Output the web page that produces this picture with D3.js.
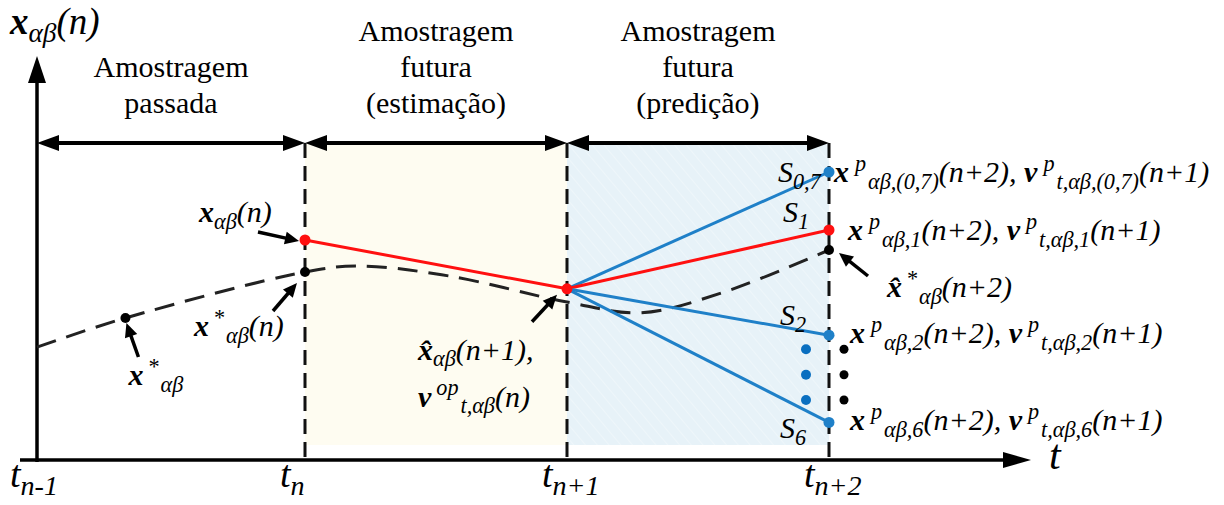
<!DOCTYPE html>
<html>
<head>
<meta charset="utf-8">
<script src="https://cdn.jsdelivr.net/npm/d3@7"></script>
<style>
  body { margin: 0; background: #fff; }
  svg { display: block; }
</style>
</head>
<body>
<svg id="chart" width="1224" height="505"></svg>
<script>
// sampling instants on the time axis (t subscripts)
const tickIdx = [0, 1, 2, 3];
const tickSubs = ["n-1", "n", "n+1", "n+2"];

// sampling windows above the plot
const windowFrom = [0, 1, 2];
const windowTo = [1, 2, 3];
const windowText = [
  ["Amostragem", "passada"],
  ["Amostragem", "futura", "(estimação)"],
  ["Amostragem", "futura", "(predição)"]
];

// reference trajectory x*αβ (dashed), arbitrary units
const refT = [0, 0.33, 1, 1.2, 1.55, 2, 2.28, 2.6, 3];
const refV = [28.2, 35.5, 47, 48.5, 46, 39.5, 36.8, 42, 52.5];
const refDotT = [0.33, 1, 3];

// measured value at t_n and estimate at t_{n+1}
const estT = [1, 2];
const estV = [55, 42.8];

// predictions at t_{n+2} for each switching state
const predState = ["0,7", "1", "2", "6"];
const predEnd = [72, 57.5, 31.2, 9.4];
const predRed = [false, true, false, false];
const ellipsisV = [27.7, 21.3, 15];

const svg = d3.select("#chart");
const FONT = '"Liberation Serif"';

const x = d3.scaleLinear().domain(tickIdx).range([37, 305, 567, 829]);
const y = d3.scaleLinear().domain([0, 100]).range([460, 60]);
const yWin = 143, yBottom = 445, yAxis = 460;

const RED = "#ff1010", BLUE = "#1f80c8";

//helpers
function arrowHead(g, x1, y1, x2, y2, len, half) {
  const a = Math.atan2(y2 - y1, x2 - x1);
  const bx = x2 - len * Math.cos(a), by = y2 - len * Math.sin(a);
  const px = -Math.sin(a) * half, py = Math.cos(a) * half;
  g.append("path")
    .attr("d", `M${x2},${y2}L${bx + px},${by + py}L${bx - px},${by - py}Z`)
    .attr("fill", "#000");
}
function arrow(g, x1, y1, x2, y2, len, half, w, both) {
  const a = Math.atan2(y2 - y1, x2 - x1);
  const s = both ? len * 0.8 : 0;
  g.append("line")
    .attr("x1", x1 + s * Math.cos(a)).attr("y1", y1 + s * Math.sin(a))
    .attr("x2", x2 - len * 0.8 * Math.cos(a)).attr("y2", y2 - len * 0.8 * Math.sin(a))
    .attr("stroke", "#000").attr("stroke-width", w);
  arrowHead(g, x1, y1, x2, y2, len, half);
  if (both) arrowHead(g, x2, y2, x1, y1, len, half);
}
// parts: [text, kind, dx]; kind: b = bold, ^ = superscript, _ = subscript
function rich(g, x0, y0, parts, size) {
  const t = g.append("text")
    .attr("x", x0).attr("y", y0)
    .style("font-family", FONT)
    .style("font-style", "italic")
    .attr("font-size", size)
    .attr("fill", "#000");
  let shift = 0;
  parts.forEach(([s, k, dx]) => {
    const target = k.includes("^") ? -0.38 * size : k.includes("_") ? 0.22 * size : 0;
    const small = k.includes("^") || k.includes("_");
    t.append("tspan")
      .attr("dy", target - shift)
      .attr("dx", dx || null)
      .attr("font-size", small ? size * 0.74 : size)
      .attr("font-weight", k.includes("b") ? "bold" : null)
      .text(s);
    shift = target;
  });
  return t;
}

// defs: hatch for prediction window
const defs = svg.append("defs");
const hatch = defs.append("pattern")
  .attr("id", "hatch").attr("patternUnits", "userSpaceOnUse")
  .attr("width", 9).attr("height", 9)
  .attr("patternTransform", "rotate(-40)");
hatch.append("rect").attr("width", 9).attr("height", 9).attr("fill", "#e7f2f8");
hatch.append("line").attr("x1", 0).attr("y1", 0).attr("x2", 0).attr("y2", 9)
  .attr("stroke", "#f4f9fc").attr("stroke-width", 1.2);

// window backgrounds
svg.append("rect")
  .attr("x", x(1)).attr("y", yWin)
  .attr("width", x(2) - x(1)).attr("height", yBottom - yWin)
  .attr("fill", "#fefcf1");
svg.append("rect")
  .attr("x", x(2)).attr("y", yWin)
  .attr("width", x(3) - x(2)).attr("height", yBottom - yWin)
  .attr("fill", "url(#hatch)");

// dashed verticals at t_n, t_n+1, t_n+2
svg.selectAll("line.tick")
  .data(tickIdx.slice(1))
  .join("line")
  .attr("class", "tick")
  .attr("x1", d => x(d)).attr("x2", d => x(d))
  .attr("y1", yWin).attr("y2", yAxis)
  .attr("stroke", "#111").attr("stroke-width", 3)
  .attr("stroke-dasharray", "15,8");

// axes
const axes = svg.append("g");
axes.append("line").attr("x1", x(0)).attr("x2", x(0))
  .attr("y1", yAxis + 2).attr("y2", 80)
  .attr("stroke", "#000").attr("stroke-width", 3.5);
arrowHead(axes, x(0), 90, x(0), 56, 27, 9);
axes.append("line").attr("x1", 20).attr("x2", 1010)
  .attr("y1", yAxis).attr("y2", yAxis)
  .attr("stroke", "#000").attr("stroke-width", 3.5);
arrowHead(axes, 990, yAxis, 1031, yAxis, 28, 8);
rich(axes, 1049, 469, [["t", ""]], 42);
rich(axes, 10, 34, [["x", "b"], ["αβ", "_"], ["(n)", ""]], 37);

// time tick labels
tickIdx.forEach((d, i) => {
  rich(axes, x(d) + (i === 0 ? -27 : -25), 487, [["t", ""], [tickSubs[i], "_"]], 38);
});

// window double arrows and titles
windowFrom.forEach((f, i) => {
  arrow(svg, x(f), yWin, x(windowTo[i]), yWin, 22, 8, 4, true);
  const lines = windowText[i];
  const cx = (x(f) + x(windowTo[i])) / 2;
  lines.forEach((s, j) => {
    svg.append("text")
      .attr("x", cx)
      .attr("y", 113 - (lines.length - 1 - j) * 36)
      .attr("text-anchor", "middle")
      .style("font-family", FONT)
      .attr("font-size", 30)
      .text(s);
  });
});

// reference trajectory
const refLine = d3.line()
  .x(d => x(d[0])).y(d => y(d[1]))
  .curve(d3.curveCatmullRom.alpha(0.5));
svg.append("path")
  .datum(refT.map((t, i) => [t, refV[i]]))
  .attr("d", refLine)
  .attr("fill", "none")
  .attr("stroke", "#222").attr("stroke-width", 3)
  .attr("stroke-dasharray", "20,11");

// predictions from t_n+1 to t_n+2
const start = [estT[1], estV[1]];
predState.forEach((s, i) => {
  svg.append("line")
    .attr("x1", x(start[0])).attr("y1", y(start[1]))
    .attr("x2", x(3)).attr("y2", y(predEnd[i]))
    .attr("stroke", predRed[i] ? RED : BLUE).attr("stroke-width", 3);
});
// measured -> estimate
svg.append("line")
  .attr("x1", x(estT[0])).attr("y1", y(estV[0]))
  .attr("x2", x(estT[1])).attr("y2", y(estV[1]))
  .attr("stroke", RED).attr("stroke-width", 3);

// points
const refAt = t => refV[refT.indexOf(t)];
svg.selectAll("circle.ref")
  .data(refDotT)
  .join("circle").attr("class", "ref")
  .attr("cx", d => x(d)).attr("cy", d => y(refAt(d)))
  .attr("r", 5).attr("fill", "#000");
svg.selectAll("circle.pred")
  .data(predEnd)
  .join("circle").attr("class", "pred")
  .attr("cx", x(3)).attr("cy", d => y(d))
  .attr("r", 5.5).attr("fill", (d, i) => predRed[i] ? RED : BLUE);
svg.selectAll("circle.est")
  .data(estT)
  .join("circle").attr("class", "est")
  .attr("cx", d => x(d)).attr("cy", (d, i) => y(estV[i]))
  .attr("r", 5.5).attr("fill", RED);
svg.selectAll("circle.ellB")
  .data(ellipsisV)
  .join("circle").attr("class", "ellB")
  .attr("cx", x(3) - 23).attr("cy", d => y(d))
  .attr("r", 5).attr("fill", "#0a6fc0");
svg.selectAll("circle.ellK")
  .data(ellipsisV)
  .join("circle").attr("class", "ellK")
  .attr("cx", x(3) + 15).attr("cy", d => y(d))
  .attr("r", 4.5).attr("fill", "#000");

// switching state labels S
const sOff = [[-51, 10], [-46, -8], [-49, -10], [-49, 16]];
predState.forEach((s, i) => {
  rich(svg, x(3) + sOff[i][0], y(predEnd[i]) + sOff[i][1], [["S", ""], [s, "_"]], 30);
});

// prediction labels on the right
const lOff = [[5, 10], [19, 10], [21, 8], [21, 8]];
predState.forEach((s, i) => {
  const sub = s.includes(",") ? `(${s})` : s;
  rich(svg, x(3) + lOff[i][0], y(predEnd[i]) + lOff[i][1], [
    ["x", "b"], ["p", "^", 6], [`αβ,${sub}`, "_", 2], ["(n+2), ", ""],
    ["v", "b"], ["p", "^", 6], [`t,αβ,${sub}`, "_", 2], ["(n+1)", ""]
  ], 30);
});

// annotations
const ann = svg.append("g");
const pMeas = [x(estT[0]), y(estV[0])];
rich(ann, pMeas[0] - 106, pMeas[1] - 18, [["x", "b"], ["αβ", "_"], ["(n)", ""]], 30);
arrow(ann, pMeas[0] - 47, pMeas[1] - 8, pMeas[0] - 6, pMeas[1] + 1, 14, 6.5, 3.5);

const pRefN = [x(1), y(refAt(1))];
rich(ann, pRefN[0] - 111, pRefN[1] + 64, [["x", "b"], ["*", "^", 4], ["αβ", "_", 2], ["(n)", ""]], 30);
arrow(ann, pRefN[0] - 32, pRefN[1] + 39, pRefN[0] - 8, pRefN[1] + 11, 14, 6.5, 3.5);

const pRef = [x(refDotT[0]), y(refAt(refDotT[0]))];
rich(ann, pRef[0] + 3, pRef[1] + 67, [["x", "b"], ["*", "^", 4], ["αβ", "_", 2]], 30);
arrow(ann, pRef[0] + 13, pRef[1] + 39, pRef[0] + 1, pRef[1] + 5, 14, 6.5, 3.5);

const pEst = [x(estT[1]), y(estV[1])];
rich(ann, pEst[0] - 149, pEst[1] + 71, [["x\u0302", "b"], ["αβ", "_"], ["(n+1),", ""]], 30);
rich(ann, pEst[0] - 149, pEst[1] + 118, [["v", "b"], ["op", "^", 5], ["t,αβ", "_", 2], ["(n)", ""]], 30);
arrow(ann, pEst[0] - 35, pEst[1] + 33, pEst[0] - 10, pEst[1] + 6, 14, 6.5, 3.5);

const pRef2 = [x(3), y(refAt(3))];
rich(ann, pRef2[0] + 58, pRef2[1] + 47, [["x\u0302", "b"], ["*", "^", 4], ["αβ", "_", 2], ["(n+2)", ""]], 30);
arrow(ann, pRef2[0] + 39, pRef2[1] + 26, pRef2[0] + 10, pRef2[1] + 3, 14, 6.5, 3.5);
</script>
</body>
</html>
